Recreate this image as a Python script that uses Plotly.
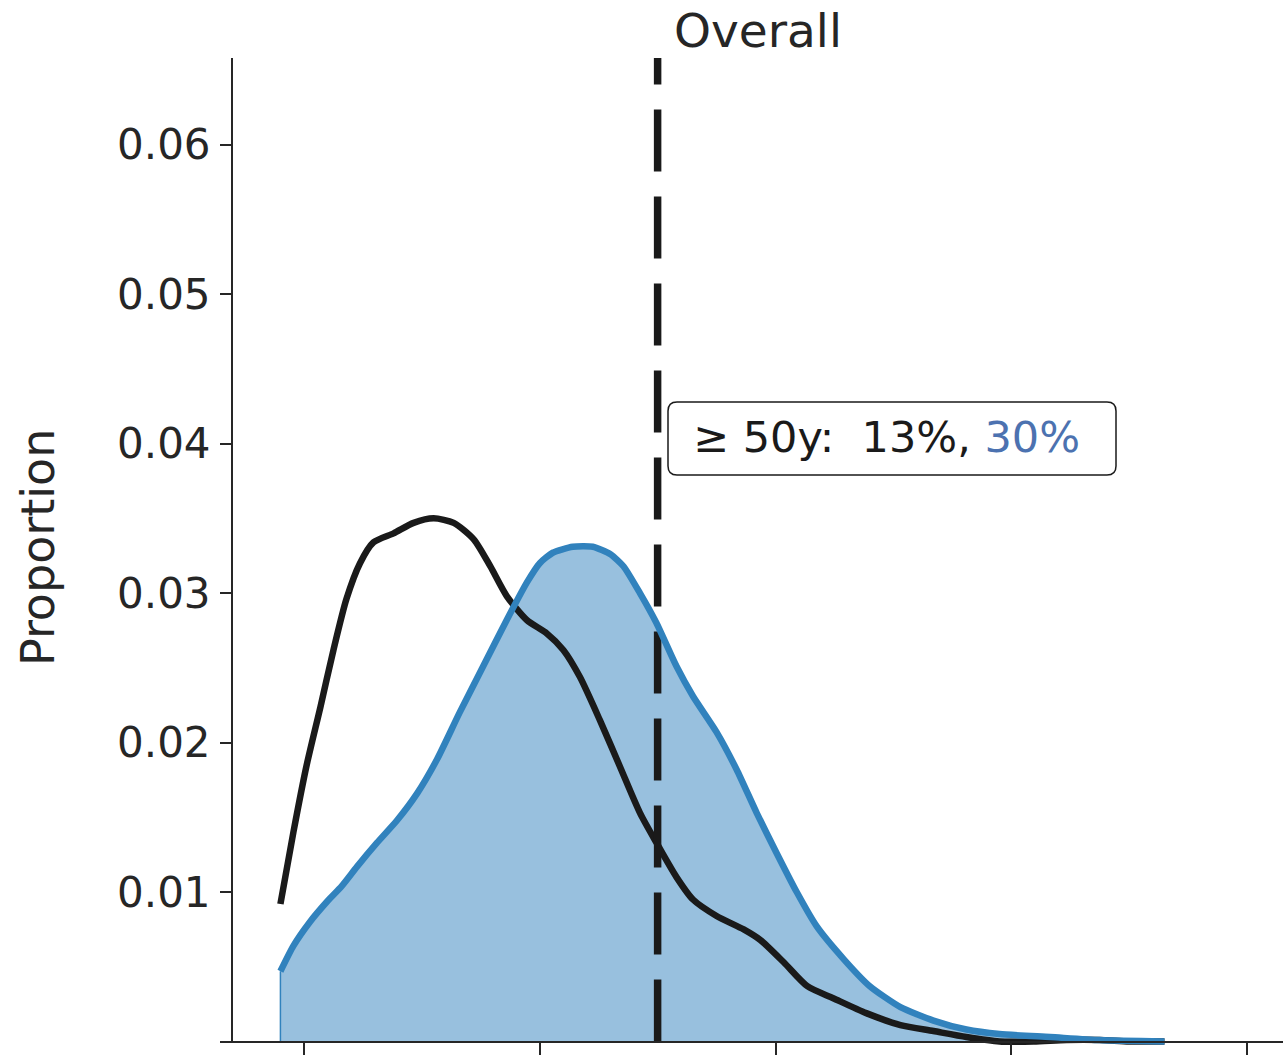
import plotly.graph_objects as go

# ---- data ----
age_black = [18.0, 19.1, 20.2, 21.4, 22.5, 23.6, 24.75, 25.9, 27.6, 29.3, 31.0, 32.7, 34.4,
             35.8, 37.2, 38.9, 40.6, 42.0, 43.4, 45.1, 46.8, 48.5, 49.9, 51.6, 53.0, 55.0,
             57.3, 58.7, 60.7, 62.7, 64.9, 67.7, 70.6, 73.4, 76.2, 79.0, 81.9, 84.7, 87.5,
             90.0, 93.0]
prop_black = [0.0092, 0.0140, 0.0184, 0.0224, 0.0262, 0.0296, 0.0320, 0.0334, 0.0340, 0.0347,
              0.0350, 0.0347, 0.0336, 0.0318, 0.0298, 0.0282, 0.0273, 0.0262, 0.0244, 0.0215,
              0.0184, 0.0153, 0.0133, 0.0110, 0.0095, 0.0084, 0.0075, 0.0068, 0.0053, 0.0037,
              0.0029, 0.0019, 0.0011, 0.0007, 0.0003, 0.0000, 0.0000, 0.0001, 0.0001, 0.0000,
              0.0000]

age_blue = [18.0, 19.1, 20.5, 22.0, 23.2, 24.5, 26.2, 27.9, 29.6, 31.3, 33.2, 35.2, 37.2,
            38.9, 40.0, 41.1, 42.8, 44.5, 46.0, 47.1, 48.5, 49.9, 51.6, 53.0, 55.0, 56.7,
            58.4, 60.1, 61.8, 63.5, 65.8, 68.0, 70.6, 73.4, 76.2, 79.0, 83.3, 87.5, 93.0]
prop_blue = [0.0047, 0.0064, 0.0080, 0.0094, 0.0104, 0.0117, 0.0133, 0.0148, 0.0166, 0.0189,
             0.0220, 0.0251, 0.0282, 0.0307, 0.0320, 0.0327, 0.0331, 0.0331, 0.0326, 0.0318,
             0.0300, 0.0280, 0.0251, 0.0231, 0.0207, 0.0182, 0.0153, 0.0126, 0.0100, 0.0077,
             0.0055, 0.0037, 0.0023, 0.0014, 0.0008, 0.0005, 0.0003, 0.0001, 0.0000]

threshold_age = 50
x_ticks = [20, 40, 60, 80, 100]
y_ticks = [0.01, 0.02, 0.03, 0.04, 0.05, 0.06]
y_tick_labels = ["%.2f" % v for v in y_ticks]
title_text = "Overall"
y_label = "Proportion"
pct_black = "13%"
pct_blue = "30%"

# ---- layout geometry (body margin removed by post_script) ----
OFF = 0
ML, MR, MT, MB = 220, 0, 58, 13
PW, PH = 1063, 988
W, H = ML + PW + MR, MT + PH + MB
x_range = [12.874, 103.054]
y_range = [-0.0003, 0.0658]

def xp(px):
    return (px - OFF - ML) / PW

def yp(py):
    return (OFF + MT + PH - py) / PH

FONT = "DejaVu Sans"
DARK = "#262626"
BLUE = "#3182bd"

fig = go.Figure()

# filled density
fig.add_trace(go.Scatter(x=age_blue, y=prop_blue, mode="lines", fill="tozeroy",
                         fillcolor="rgba(49,130,189,0.5)", line=dict(width=0, shape="spline", smoothing=0.6),
                         hoverinfo="skip", showlegend=False))
fig.add_trace(go.Scatter(x=[age_blue[0], age_blue[0]], y=[0, prop_blue[0]], mode="lines",
                         line=dict(color=BLUE, width=1.5), showlegend=False, hoverinfo="skip"))
# black density
fig.add_trace(go.Scatter(x=age_black, y=prop_black, mode="lines",
                         line=dict(color="#1a1a1a", width=6.5, shape="spline", smoothing=0.7),
                         showlegend=False))
# dashed threshold
fig.add_trace(go.Scatter(x=[threshold_age, threshold_age], y=[0, y_range[1]], mode="lines",
                         line=dict(color="#1a1a1a", width=7.5, dash="62px,25px"),
                         showlegend=False, hoverinfo="skip"))
# blue line
fig.add_trace(go.Scatter(x=age_blue, y=prop_blue, mode="lines",
                         line=dict(color=BLUE, width=6.5, shape="spline", smoothing=0.6),
                         showlegend=False))

# y-axis spine as shape (starts at y=0)
fig.add_shape(type="line", xref="paper", yref="y", x0=xp(232), x1=xp(232), y0=0, y1=y_range[1],
              line=dict(color=DARK, width=2))

# rounded annotation box
bx0, bx1, by0, by1, r = 668, 1116, 402, 475, 9
path = (f"M {xp(bx0 + r)} {yp(by0)} L {xp(bx1 - r)} {yp(by0)} "
        f"Q {xp(bx1)} {yp(by0)} {xp(bx1)} {yp(by0 + r)} L {xp(bx1)} {yp(by1 - r)} "
        f"Q {xp(bx1)} {yp(by1)} {xp(bx1 - r)} {yp(by1)} L {xp(bx0 + r)} {yp(by1)} "
        f"Q {xp(bx0)} {yp(by1)} {xp(bx0)} {yp(by1 - r)} L {xp(bx0)} {yp(by0 + r)} "
        f"Q {xp(bx0)} {yp(by0)} {xp(bx0 + r)} {yp(by0)} Z")
fig.add_shape(type="path", xref="paper", yref="paper", path=path,
              line=dict(color="#1a1a1a", width=1.5), fillcolor="white", layer="above")

fig.add_annotation(xref="paper", yref="paper", x=xp(886), y=yp(437), xanchor="center", yanchor="middle",
                   text=f"≥ 50y:  {pct_black}, <span style='color:#4c72b0'>{pct_blue}</span>",
                   showarrow=False, font=dict(family=FONT, size=43, color="#1a1a1a"))

fig.add_annotation(xref="paper", yref="paper", x=xp(758), y=yp(30), xanchor="center", yanchor="middle",
                   text=title_text, showarrow=False, font=dict(family=FONT, size=47, color=DARK))

fig.add_annotation(xref="paper", yref="paper", x=xp(38), y=yp(548), xanchor="center", yanchor="middle",
                   text=y_label, textangle=-90, showarrow=False,
                   font=dict(family=FONT, size=46, color=DARK))

fig.update_layout(
    width=W, height=H,
    margin=dict(l=ML, r=MR, t=MT, b=MB, pad=0),
    paper_bgcolor="white", plot_bgcolor="white",
    font=dict(family=FONT, color=DARK),
    xaxis=dict(range=x_range, tickvals=x_ticks, showticklabels=False, ticks="outside",
               ticklen=12, tickwidth=2, tickcolor=DARK, showline=True, linecolor=DARK, linewidth=2,
               showgrid=False, zeroline=False, anchor="free",
               position=(0 - y_range[0]) / (y_range[1] - y_range[0])),
    yaxis=dict(range=y_range, tickvals=y_ticks, ticktext=y_tick_labels, ticks="outside",
               ticklen=12, tickwidth=2, tickcolor=DARK, showline=False, showgrid=False,
               zeroline=False, anchor="free", position=xp(232),
               tickfont=dict(family=FONT, size=42, color=DARK), ticklabelstandoff=1),
)

fig.write_html("out.html", config={"displayModeBar": False},
               post_script="document.body.style.margin='0px';")
